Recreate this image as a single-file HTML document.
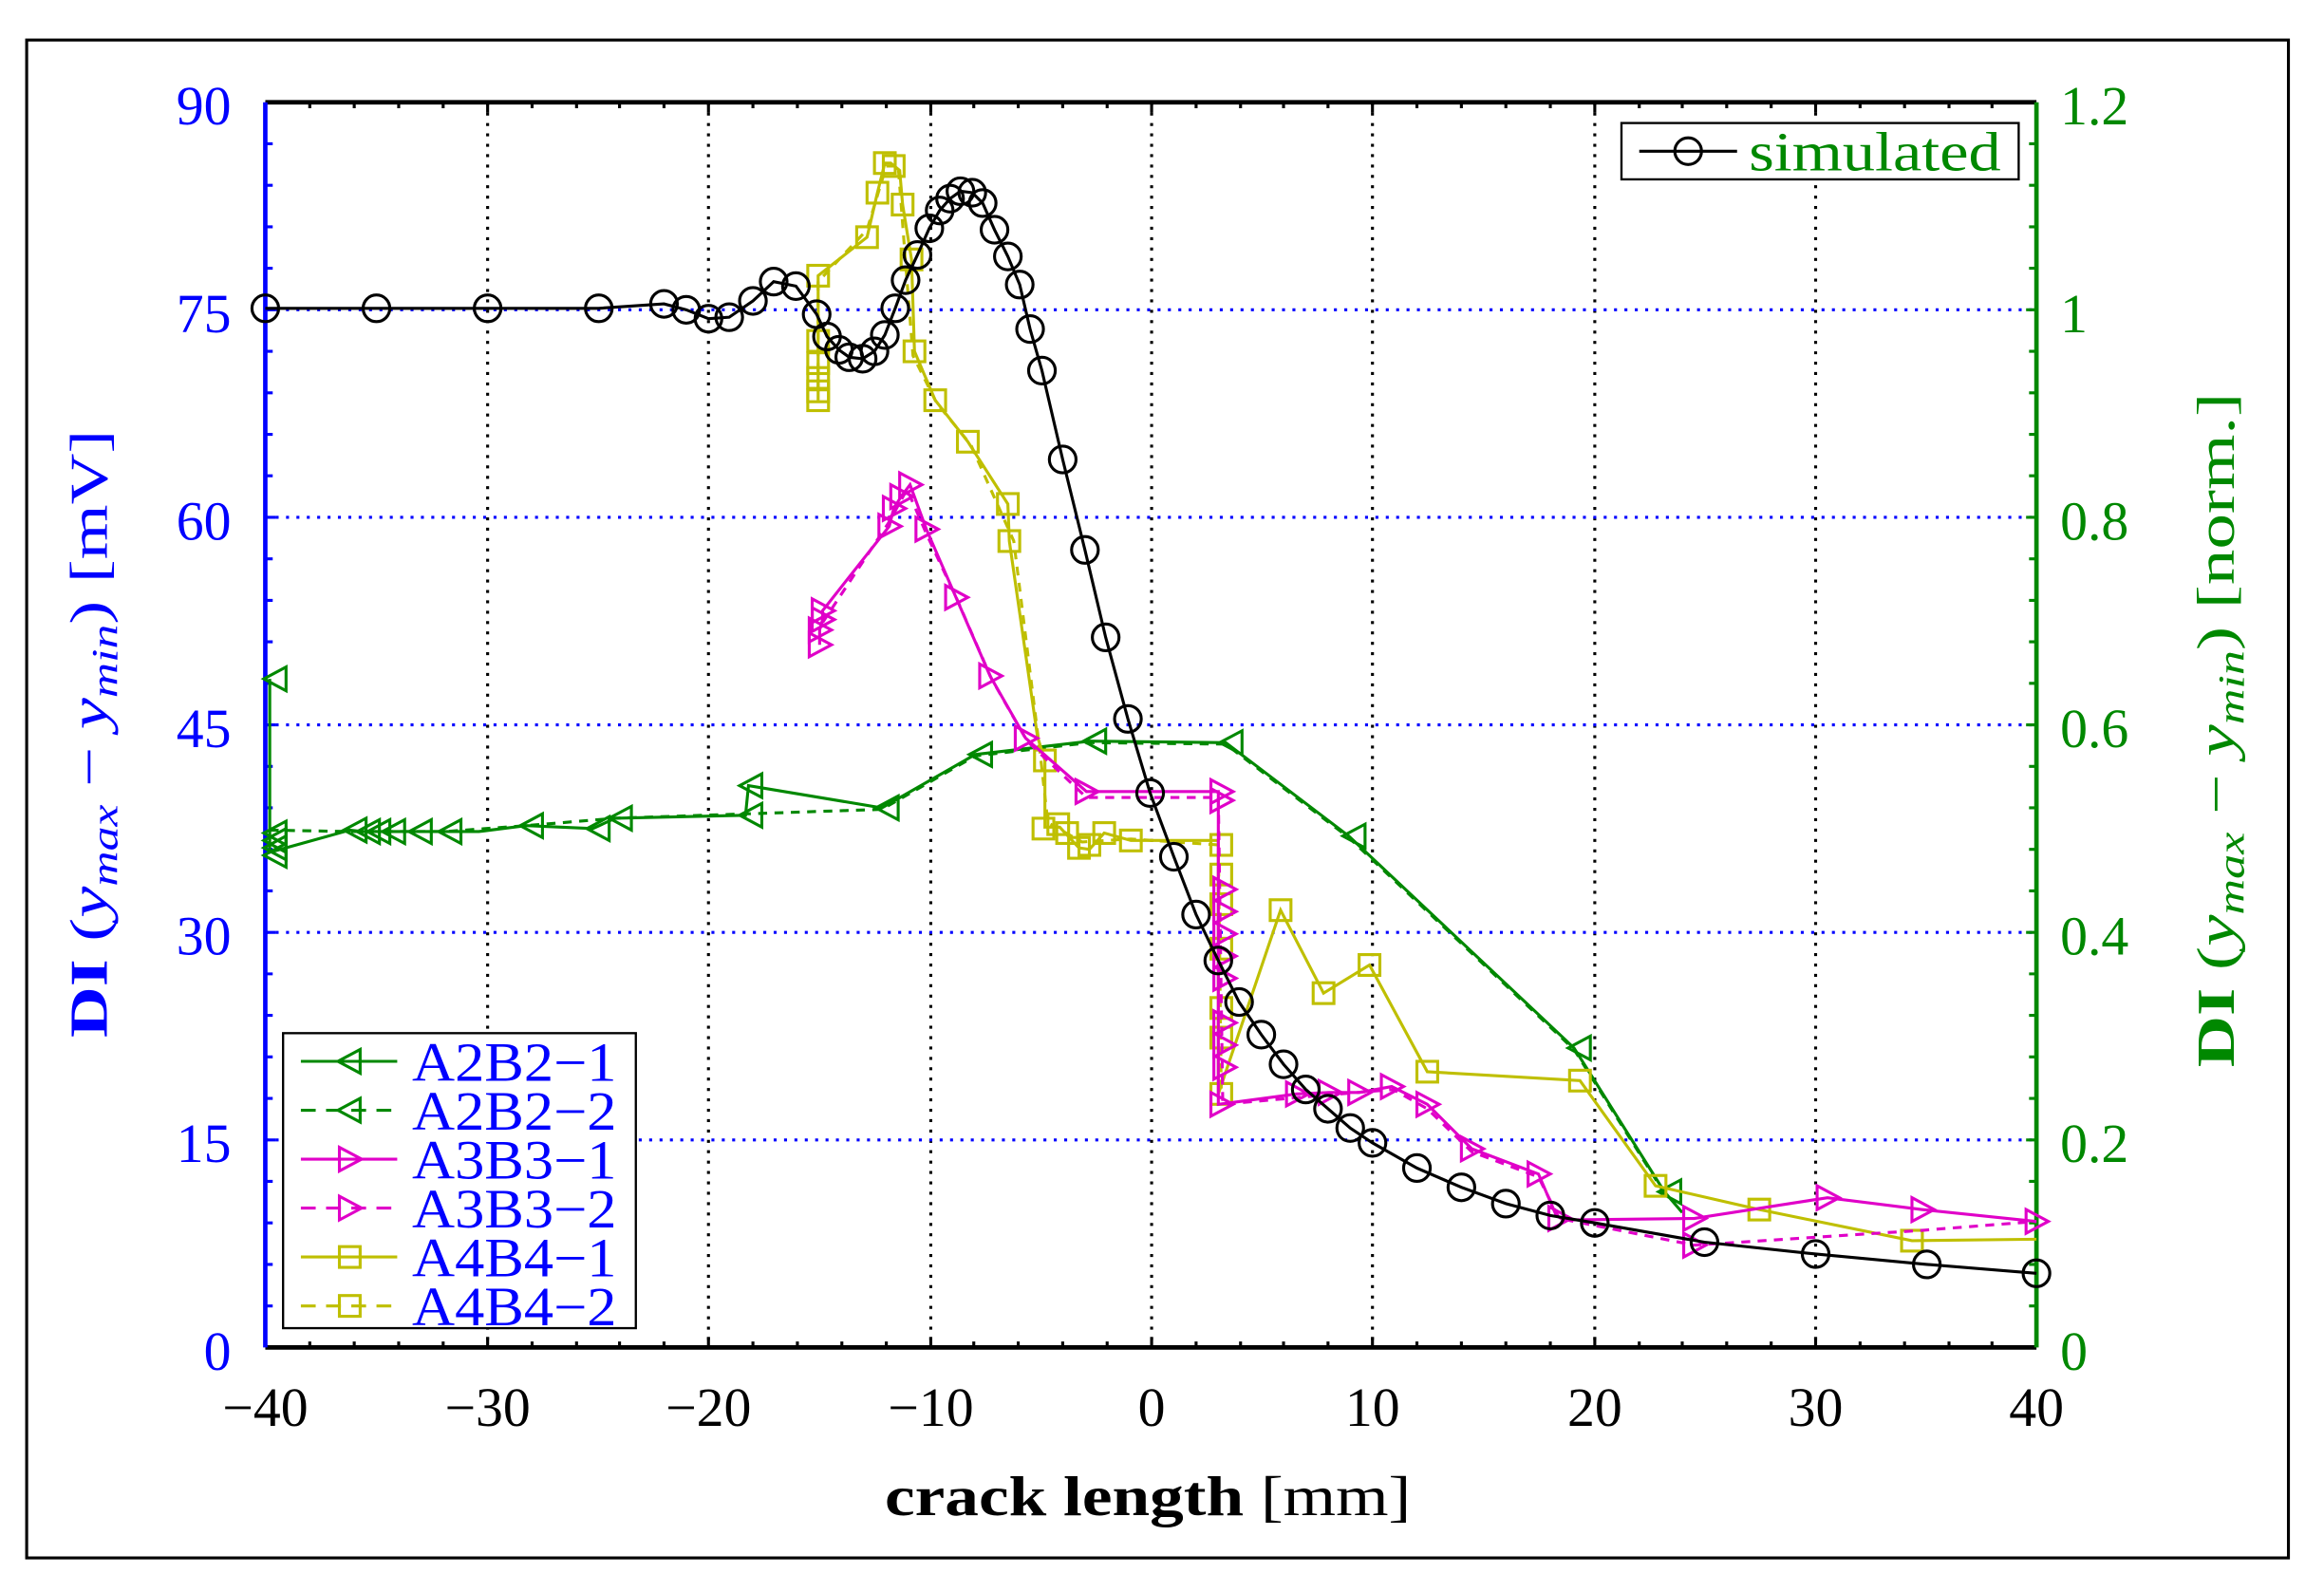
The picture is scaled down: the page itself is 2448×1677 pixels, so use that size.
<!DOCTYPE html>
<html><head><meta charset="utf-8"><style>
html,body{margin:0;padding:0;background:#fff;}
svg{display:block;}
text{font-family:"Liberation Serif",serif;}
</style></head><body>
<svg width="2448" height="1677" viewBox="0 0 1568 1074" preserveAspectRatio="none" xmlns="http://www.w3.org/2000/svg">
<defs>
<path id="tl" d="M-8,0 L7,-8 L7,8 Z" fill="none" stroke-width="2"/>
<path id="tr" d="M8,0 L-7,-8 L-7,8 Z" fill="none" stroke-width="2"/>
<rect id="sq" x="-7" y="-7" width="14" height="14" fill="none" stroke-width="2"/>
<circle id="ci" r="9" fill="none" stroke-width="2"/>
</defs>
<rect x="18" y="27" width="1526" height="1024" fill="none" stroke="#000" stroke-width="2"/>
<g stroke="#000" stroke-width="2" stroke-dasharray="2,5">
<line x1="329" y1="69" x2="329" y2="909"/><line x1="478" y1="69" x2="478" y2="909"/><line x1="628" y1="69" x2="628" y2="909"/><line x1="777" y1="69" x2="777" y2="909"/><line x1="926" y1="69" x2="926" y2="909"/><line x1="1076" y1="69" x2="1076" y2="909"/><line x1="1225" y1="69" x2="1225" y2="909"/>
</g>
<g stroke="#00f" stroke-width="2" stroke-dasharray="2,5">
<line x1="179" y1="209" x2="1374" y2="209"/><line x1="179" y1="349" x2="1374" y2="349"/><line x1="179" y1="489" x2="1374" y2="489"/><line x1="179" y1="629" x2="1374" y2="629"/><line x1="179" y1="769" x2="1374" y2="769"/>
</g>
<path stroke="#000" stroke-width="2" d="M209,69v4M239,69v4M269,69v4M299,69v4M329,69v7M359,69v4M389,69v4M418,69v4M448,69v4M478,69v7M508,69v4M538,69v4M568,69v4M598,69v4M628,69v7M657,69v4M687,69v4M717,69v4M747,69v4M777,69v7M807,69v4M837,69v4M866,69v4M896,69v4M926,69v7M956,69v4M986,69v4M1016,69v4M1046,69v4M1076,69v7M1106,69v4M1135,69v4M1165,69v4M1195,69v4M1225,69v7M1255,69v4M1285,69v4M1315,69v4M1344,69v4
M209,909v-4M239,909v-4M269,909v-4M299,909v-4M329,909v-7M359,909v-4M389,909v-4M418,909v-4M448,909v-4M478,909v-7M508,909v-4M538,909v-4M568,909v-4M598,909v-4M628,909v-7M657,909v-4M687,909v-4M717,909v-4M747,909v-4M777,909v-7M807,909v-4M837,909v-4M866,909v-4M896,909v-4M926,909v-7M956,909v-4M986,909v-4M1016,909v-4M1046,909v-4M1076,909v-7M1106,909v-4M1135,909v-4M1165,909v-4M1195,909v-4M1225,909v-7M1255,909v-4M1285,909v-4M1315,909v-4M1344,909v-4"/>
<path stroke="#00f" stroke-width="2" d="M179,97h5M179,125h5M179,153h5M179,181h5M179,237h5M179,265h5M179,293h5M179,321h5M179,377h5M179,405h5M179,433h5M179,461h5M179,517h5M179,545h5M179,573h5M179,601h5M179,657h5M179,685h5M179,713h5M179,741h5M179,797h5M179,825h5M179,853h5M179,881h5M179,209h7M179,349h7M179,489h7M179,629h7M179,769h7"/>
<path stroke="#080" stroke-width="2" d="M1374,97h-5M1374,125h-5M1374,153h-5M1374,181h-5M1374,237h-5M1374,265h-5M1374,293h-5M1374,321h-5M1374,377h-5M1374,405h-5M1374,433h-5M1374,461h-5M1374,517h-5M1374,545h-5M1374,573h-5M1374,601h-5M1374,657h-5M1374,685h-5M1374,713h-5M1374,741h-5M1374,797h-5M1374,825h-5M1374,853h-5M1374,881h-5M1374,209h-7M1374,349h-7M1374,489h-7M1374,629h-7M1374,769h-7"/>
<line x1="179" y1="69" x2="1374" y2="69" stroke="#000" stroke-width="3"/>
<line x1="179" y1="909" x2="1374" y2="909" stroke="#000" stroke-width="3"/>
<line x1="179" y1="69" x2="179" y2="909" stroke="#00f" stroke-width="3"/>
<line x1="1374" y1="69" x2="1374" y2="909" stroke="#080" stroke-width="3"/>
<g fill="#00f" font-size="37" text-anchor="end">
<text x="156" y="84">90</text><text x="156" y="224">75</text><text x="156" y="364">60</text><text x="156" y="504">45</text><text x="156" y="644">30</text><text x="156" y="784">15</text><text x="156" y="924">0</text>
</g>
<g fill="#080" font-size="37" text-anchor="start">
<text x="1390" y="84">1.2</text><text x="1390" y="224">1</text><text x="1390" y="364">0.8</text><text x="1390" y="504">0.6</text><text x="1390" y="644">0.4</text><text x="1390" y="784">0.2</text><text x="1390" y="924">0</text>
</g>
<g fill="#000" font-size="37" text-anchor="middle">
<text x="179" y="962">−40</text><text x="329" y="962">−30</text><text x="478" y="962">−20</text><text x="628" y="962">−10</text><text x="777" y="962">0</text><text x="926" y="962">10</text><text x="1076" y="962">20</text><text x="1225" y="962">30</text><text x="1374" y="962">40</text>
</g>
<text x="597" y="1022" font-size="38" fill="#000" textLength="355" lengthAdjust="spacingAndGlyphs"><tspan font-weight="bold">crack length</tspan> [mm]</text>
<text transform="translate(72,700) rotate(-90)" font-size="36" fill="#00f" textLength="410" lengthAdjust="spacingAndGlyphs"><tspan font-weight="bold">DI</tspan> (<tspan font-style="italic">y<tspan font-size="25" dy="7">max</tspan></tspan><tspan dy="-7"> − </tspan><tspan font-style="italic">y<tspan font-size="25" dy="7">min</tspan></tspan><tspan dy="-7">) [mV]</tspan></text>
<text transform="translate(1507,720) rotate(-90)" font-size="36" fill="#080" textLength="455" lengthAdjust="spacingAndGlyphs"><tspan font-weight="bold">DI</tspan> (<tspan font-style="italic">y<tspan font-size="25" dy="7">max</tspan></tspan><tspan dy="-7"> − </tspan><tspan font-style="italic">y<tspan font-size="25" dy="7">min</tspan></tspan><tspan dy="-7">) [norm.]</tspan></text>

<g stroke="#080" stroke-width="2" fill="none">
<polyline points="182,458 182,560 182,575 236,560 245,561 252,561 262,561 280,561 300,561 323,561 355,557 400,559 415,552 503,550 505,530 595,545 658,509 735,500 827,501 910,564 1062,707 1123,804 1135,818"/>
<polyline stroke-dasharray="6,5" points="182,560 236,561 262,561 300,561 355,557 415,552 505,549 595,546 658,510 735,501 827,502 910,565 1062,708 1123,805"/>
</g>
<g stroke="#080">
<use href="#tl" x="186" y="458"/><use href="#tl" x="186" y="562"/><use href="#tl" x="186" y="567"/><use href="#tl" x="186" y="572"/><use href="#tl" x="186" y="577"/>
<use href="#tl" x="240" y="560"/><use href="#tl" x="249" y="561"/><use href="#tl" x="256" y="561"/><use href="#tl" x="266" y="561"/><use href="#tl" x="284" y="561"/><use href="#tl" x="304" y="561"/><use href="#tl" x="359" y="557"/><use href="#tl" x="404" y="559"/><use href="#tl" x="419" y="552"/><use href="#tl" x="507" y="550"/><use href="#tl" x="507" y="530"/><use href="#tl" x="599" y="545"/><use href="#tl" x="662" y="509"/><use href="#tl" x="739" y="500"/><use href="#tl" x="831" y="501"/><use href="#tl" x="914" y="564"/><use href="#tl" x="1066" y="707"/><use href="#tl" x="1127" y="804"/>
</g>

<g stroke="#bfbf00" stroke-width="2" fill="none">
<polyline points="552,270 552,186 585,160 592,130 597,110 601,110 607,115 609,138 615,175 617,237 631,270 653,298 680,340 681,365 700,497 705,513 705,558 715,558 728,572 735,573 745,562 763,567 822,567 822,738 864,614 893,670 924,651 963,723 1066,729 1117,800 1187,816 1290,837 1374,836"/>
<polyline stroke-dasharray="6,5" points="552,262 552,190 585,155 598,112 606,112 612,190 616,240 632,272 655,300 684,365 702,510 707,555 730,568 763,566 822,570 824,738"/>
</g>
<g stroke="#bfbf00">
<use href="#sq" x="552" y="186"/><use href="#sq" x="552" y="230"/><use href="#sq" x="552" y="245"/><use href="#sq" x="552" y="255"/><use href="#sq" x="552" y="264"/><use href="#sq" x="552" y="270"/>
<use href="#sq" x="585" y="160"/><use href="#sq" x="592" y="130"/><use href="#sq" x="597" y="110"/><use href="#sq" x="603" y="112"/><use href="#sq" x="609" y="138"/><use href="#sq" x="615" y="175"/><use href="#sq" x="617" y="237"/><use href="#sq" x="631" y="270"/><use href="#sq" x="653" y="298"/><use href="#sq" x="680" y="340"/><use href="#sq" x="681" y="365"/><use href="#sq" x="705" y="513"/><use href="#sq" x="704" y="559"/><use href="#sq" x="714" y="556"/><use href="#sq" x="720" y="562"/><use href="#sq" x="728" y="572"/><use href="#sq" x="735" y="570"/><use href="#sq" x="745" y="562"/><use href="#sq" x="763" y="567"/><use href="#sq" x="824" y="570"/><use href="#sq" x="824" y="590"/><use href="#sq" x="824" y="610"/><use href="#sq" x="824" y="640"/><use href="#sq" x="824" y="680"/><use href="#sq" x="824" y="700"/><use href="#sq" x="824" y="738"/><use href="#sq" x="864" y="614"/><use href="#sq" x="893" y="670"/><use href="#sq" x="924" y="651"/><use href="#sq" x="963" y="723"/><use href="#sq" x="1066" y="729"/><use href="#sq" x="1117" y="800"/><use href="#sq" x="1187" y="816"/><use href="#sq" x="1290" y="837"/>
</g>

<g stroke="#e000c8" stroke-width="2" fill="none">
<polyline points="553,435 553,425 555,418 555,412 600,355 603,343 608,335 614,327 625,357 645,403 668,456 692,498 733,534 822,534 822,540 822,745 875,738 897,737 917,737 939,733 963,745 993,775 1038,792 1050,820 1055,823 1143,822 1233,808 1297,816 1374,824"/>
<polyline stroke-dasharray="6,5" points="555,420 600,352 612,330 625,360 646,405 669,458 693,500 733,538 822,538 825,745 880,740 940,735 963,748 993,777 1038,794 1052,822 1143,840 1297,830 1374,824"/>
</g>
<g stroke="#e000c8">
<use href="#tr" x="553" y="435"/><use href="#tr" x="553" y="425"/><use href="#tr" x="555" y="418"/><use href="#tr" x="555" y="412"/><use href="#tr" x="600" y="355"/><use href="#tr" x="603" y="343"/><use href="#tr" x="608" y="335"/><use href="#tr" x="614" y="327"/><use href="#tr" x="625" y="357"/><use href="#tr" x="645" y="403"/><use href="#tr" x="668" y="456"/><use href="#tr" x="692" y="498"/><use href="#tr" x="733" y="534"/><use href="#tr" x="824" y="534"/><use href="#tr" x="824" y="540"/><use href="#tr" x="826" y="600"/><use href="#tr" x="826" y="615"/><use href="#tr" x="826" y="630"/><use href="#tr" x="826" y="645"/><use href="#tr" x="826" y="660"/><use href="#tr" x="826" y="690"/><use href="#tr" x="826" y="705"/><use href="#tr" x="826" y="720"/><use href="#tr" x="824" y="745"/><use href="#tr" x="875" y="738"/><use href="#tr" x="897" y="737"/><use href="#tr" x="917" y="737"/><use href="#tr" x="939" y="733"/><use href="#tr" x="963" y="745"/><use href="#tr" x="993" y="775"/><use href="#tr" x="1038" y="792"/><use href="#tr" x="1052" y="822"/><use href="#tr" x="1143" y="822"/><use href="#tr" x="1143" y="840"/><use href="#tr" x="1233" y="808"/><use href="#tr" x="1297" y="816"/><use href="#tr" x="1374" y="824"/>
</g>

<polyline fill="none" stroke="#000" stroke-width="2" points="179,208 254,208 329,208 404,208 448,205 463,209 478,215 492,214 508,203 522,190 537,193 551,212 558,227 566,236 573,241 582,242 590,237 597,226 604,208 611,189 619,172 627,154 634,142 641,134 648,129 656,130 663,137 671,155 680,173 688,192 695,222 703,250 717,310 732,371 746,430 761,485 776,535 792,578 807,617 822,648 836,676 851,698 866,718 881,735 896,748 911,761 926,771 956,788 986,801 1016,812 1046,820 1076,825 1150,838 1225,846 1300,853 1374,859"/>
<g stroke="#000">
<use href="#ci" x="179" y="208"/><use href="#ci" x="254" y="208"/><use href="#ci" x="329" y="208"/><use href="#ci" x="404" y="208"/><use href="#ci" x="448" y="205"/><use href="#ci" x="463" y="209"/><use href="#ci" x="478" y="215"/><use href="#ci" x="492" y="214"/><use href="#ci" x="508" y="203"/><use href="#ci" x="522" y="190"/><use href="#ci" x="537" y="193"/><use href="#ci" x="551" y="212"/><use href="#ci" x="558" y="227"/><use href="#ci" x="566" y="236"/><use href="#ci" x="573" y="241"/><use href="#ci" x="582" y="242"/><use href="#ci" x="590" y="237"/><use href="#ci" x="597" y="226"/><use href="#ci" x="604" y="208"/><use href="#ci" x="611" y="189"/><use href="#ci" x="619" y="172"/><use href="#ci" x="627" y="154"/><use href="#ci" x="634" y="142"/><use href="#ci" x="641" y="134"/><use href="#ci" x="648" y="129"/><use href="#ci" x="656" y="130"/><use href="#ci" x="663" y="137"/><use href="#ci" x="671" y="155"/><use href="#ci" x="680" y="173"/><use href="#ci" x="688" y="192"/><use href="#ci" x="695" y="222"/><use href="#ci" x="703" y="250"/><use href="#ci" x="717" y="310"/><use href="#ci" x="732" y="371"/><use href="#ci" x="746" y="430"/><use href="#ci" x="761" y="485"/><use href="#ci" x="776" y="535"/><use href="#ci" x="792" y="578"/><use href="#ci" x="807" y="617"/><use href="#ci" x="822" y="648"/><use href="#ci" x="836" y="676"/><use href="#ci" x="851" y="698"/><use href="#ci" x="866" y="718"/><use href="#ci" x="881" y="735"/><use href="#ci" x="896" y="748"/><use href="#ci" x="911" y="761"/><use href="#ci" x="926" y="771"/><use href="#ci" x="956" y="788"/><use href="#ci" x="986" y="801"/><use href="#ci" x="1016" y="812"/><use href="#ci" x="1046" y="820"/><use href="#ci" x="1076" y="825"/><use href="#ci" x="1150" y="838"/><use href="#ci" x="1225" y="846"/><use href="#ci" x="1300" y="853"/><use href="#ci" x="1374" y="859"/>
</g>

<rect x="1094" y="83" width="268" height="38" fill="#fff" stroke="#000" stroke-width="1.5"/>
<line x1="1106" y1="102" x2="1172" y2="102" stroke="#000" stroke-width="2"/>
<use href="#ci" x="1139" y="102" stroke="#000"/>
<text x="1180" y="115" font-size="37" fill="#080" textLength="170" lengthAdjust="spacingAndGlyphs">simulated</text>

<rect x="191" y="697" width="238" height="199" fill="#fff" stroke="#000" stroke-width="1.5"/>
<g stroke-width="2">
<line x1="203" y1="716" x2="268" y2="716" stroke="#080"/><use href="#tl" x="236" y="716" stroke="#080"/>
<line x1="203" y1="749" x2="268" y2="749" stroke="#080" stroke-dasharray="10,7"/><use href="#tl" x="236" y="749" stroke="#080"/>
<line x1="203" y1="782" x2="268" y2="782" stroke="#e000c8"/><use href="#tr" x="236" y="782" stroke="#e000c8"/>
<line x1="203" y1="815" x2="268" y2="815" stroke="#e000c8" stroke-dasharray="10,7"/><use href="#tr" x="236" y="815" stroke="#e000c8"/>
<line x1="203" y1="848" x2="268" y2="848" stroke="#bfbf00"/><use href="#sq" x="236" y="848" stroke="#bfbf00"/>
<line x1="203" y1="881" x2="268" y2="881" stroke="#bfbf00" stroke-dasharray="10,7"/><use href="#sq" x="236" y="881" stroke="#bfbf00"/>
</g>
<g fill="#00f" font-size="37">
<text x="278" y="729" textLength="138" lengthAdjust="spacingAndGlyphs">A2B2−1</text><text x="278" y="762" textLength="138" lengthAdjust="spacingAndGlyphs">A2B2−2</text><text x="278" y="795" textLength="138" lengthAdjust="spacingAndGlyphs">A3B3−1</text><text x="278" y="828" textLength="138" lengthAdjust="spacingAndGlyphs">A3B3−2</text><text x="278" y="861" textLength="138" lengthAdjust="spacingAndGlyphs">A4B4−1</text><text x="278" y="894" textLength="138" lengthAdjust="spacingAndGlyphs">A4B4−2</text>
</g>
</svg>
</body></html>
